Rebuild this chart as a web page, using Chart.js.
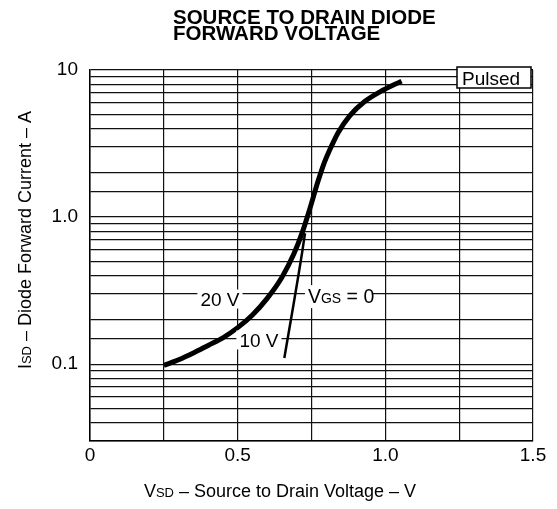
<!DOCTYPE html>
<html>
<head>
<meta charset="utf-8">
<script src="https://cdn.jsdelivr.net/npm/chart.js@4.4.0/dist/chart.umd.min.js"></script>
<style>
  body { margin: 0; background: #fff; }
  #wrap { width: 557px; height: 509px; }
</style>
</head>
<body>
<div id="wrap"><canvas id="myChart" width="557" height="509"></canvas></div>
<script>
// data (V, A)
var vsd20 = [0.25, 0.30, 0.35, 0.40, 0.45, 0.50, 0.55, 0.60, 0.65, 0.69, 0.72, 0.745, 0.772, 0.79, 0.813, 0.84, 0.88, 0.93, 0.982, 1.055];
var isd20 = [0.098, 0.107, 0.119, 0.134, 0.151, 0.177, 0.216, 0.28, 0.39, 0.56, 0.80, 1.15, 1.75, 2.25, 2.9, 3.75, 4.9, 6.1, 7.1, 8.4];
var vsd10 = [0.658, 0.675, 0.69, 0.705, 0.718, 0.728];
var isd10 = [0.110, 0.174, 0.26, 0.394, 0.569, 0.776];

var xTickValues = [0, 0.5, 1.0, 1.5];
var xTickLabels = ['0', '0.5', '1.0', '1.5'];
var yTickValues = [0.1, 1, 10];
var yTickLabels = ['0.1', '1.0', '10'];

var FONT = '"Liberation Sans", Arial, Helvetica, sans-serif';

function toPoints(xs, ys) {
    return xs.map(function (x, i) { return { x: x, y: ys[i] }; });
}

function findLabel(value, values, labels) {
    for (var i = 0; i < values.length; i++) {
        if (Math.abs(value - values[i]) < values[i] * 1e-6 + 1e-9) return labels[i];
    }
    return '';
}

// text with a small "subscript" part, e.g. V + SD + rest
function subText(ctx, x, y, main, sub, rest, size, align) {
    var small = Math.round(size * 0.72);
    ctx.font = size + 'px ' + FONT;
    var w1 = ctx.measureText(main).width;
    var w3 = ctx.measureText(rest).width;
    ctx.font = small + 'px ' + FONT;
    var w2 = ctx.measureText(sub).width;
    var total = w1 + w2 + w3;
    var sx = x;
    if (align === 'center') sx = x - total / 2;
    ctx.textAlign = 'left';
    ctx.textBaseline = 'alphabetic';
    ctx.font = size + 'px ' + FONT;
    ctx.fillText(main, sx, y);
    ctx.font = small + 'px ' + FONT;
    ctx.fillText(sub, sx + w1, y);
    ctx.font = size + 'px ' + FONT;
    ctx.fillText(rest, sx + w1 + w2, y);
    return total;
}

function boxedText(ctx, text, cx, cy, size) {
    ctx.font = size + 'px ' + FONT;
    var w = ctx.measureText(text).width;
    ctx.fillStyle = '#fff';
    ctx.fillRect(cx - w / 2 - 3, cy - size * 0.5, w + 6, size);
    ctx.fillStyle = '#000';
    ctx.textAlign = 'center';
    ctx.textBaseline = 'alphabetic';
    ctx.fillText(text, cx, cy + size * 0.36);
}

var textPlugin = {
    id: 'textPlugin',
    afterDatasetsDraw: function (chart) {
        var ctx = chart.ctx;
        var xs = chart.scales.x, ys = chart.scales.y;
        var ca = chart.chartArea;
        ctx.save();
        ctx.fillStyle = '#000';

        // title
        ctx.font = 'bold 20.5px ' + FONT;
        ctx.textAlign = 'left';
        ctx.textBaseline = 'alphabetic';
        ctx.fillText('SOURCE TO DRAIN DIODE', 173, 24);
        ctx.fillText('FORWARD VOLTAGE', 173, 39.5);

        // curve labels
        boxedText(ctx, '20 V', xs.getPixelForValue(0.44), ys.getPixelForValue(0.277), 19);
        boxedText(ctx, '10 V', xs.getPixelForValue(0.572), ys.getPixelForValue(0.146), 19);

        // VGS = 0
        var vx = xs.getPixelForValue(0.738), vy = ys.getPixelForValue(0.29);
        ctx.font = '19px ' + FONT;
        var wv = ctx.measureText('V = 0').width + 14;
        ctx.fillStyle = '#fff';
        ctx.fillRect(vx - 3, vy - 11, wv + 8, 23);
        ctx.fillStyle = '#000';
        subText(ctx, vx, vy + 7, 'V', 'GS', ' = 0', 19.5, 'left');

        // Pulsed box
        var bx = ca.right - 76, by = ca.top - 3;
        ctx.fillStyle = '#fff';
        ctx.fillRect(bx, by, 74, 21);
        ctx.strokeStyle = '#000';
        ctx.lineWidth = 1.5;
        ctx.strokeRect(bx, by, 74, 21);
        ctx.fillStyle = '#000';
        ctx.font = '19px ' + FONT;
        ctx.textAlign = 'left';
        ctx.fillText('Pulsed', bx + 5, by + 18);

        // axis titles
        subText(ctx, 280, 497, 'V', 'SD', ' \u2013 Source to Drain Voltage \u2013 V', 18, 'center');
        ctx.translate(31, 240);
        ctx.rotate(-Math.PI / 2);
        subText(ctx, 0, 0, 'I', 'SD', ' \u2013 Diode Forward Current \u2013 A', 18, 'center');
        ctx.restore();
    }
};

var ctx = document.getElementById('myChart').getContext('2d');
var myChart = new Chart(ctx, {
    type: 'line',
    data: {
        datasets: [
            {
                label: '20 V',
                data: toPoints(vsd20, isd20),
                borderColor: '#000',
                borderWidth: 5,
                pointRadius: 0,
                cubicInterpolationMode: 'monotone',
                fill: false
            },
            {
                label: '10 V',
                data: toPoints(vsd10, isd10),
                borderColor: '#000',
                borderWidth: 2.5,
                pointRadius: 0,
                cubicInterpolationMode: 'monotone',
                fill: false
            }
        ]
    },
    options: {
        responsive: false,
        animation: false,
        layout: { padding: { left: 0, right: 24, top: 70, bottom: 0 } },
        plugins: {
            legend: { display: false },
            tooltip: { enabled: false }
        },
        scales: {
            x: {
                type: 'linear',
                min: 0,
                max: 1.5,
                afterFit: function (scale) { scale.height = 68; },
                grid: { color: '#111', lineWidth: 1.2, drawTicks: false },
                border: { color: '#000', width: 1.5 },
                ticks: {
                    stepSize: 0.25,
                    autoSkip: false,
                    maxRotation: 0,
                    padding: 3,
                    color: '#000',
                    font: { family: FONT, size: 19 },
                    callback: function (value) {
                        return findLabel(value, xTickValues, xTickLabels);
                    }
                }
            },
            y: {
                type: 'logarithmic',
                min: 0.03,
                max: 10,
                afterFit: function (scale) { scale.width = 90; },
                grid: { color: '#111', lineWidth: 1.2, drawTicks: false },
                border: { color: '#000', width: 1.5 },
                ticks: {
                    autoSkip: false,
                    padding: 12,
                    color: '#000',
                    font: { family: FONT, size: 19 },
                    callback: function (value) {
                        return findLabel(value, yTickValues, yTickLabels);
                    }
                }
            }
        }
    },
    plugins: [textPlugin]
});
</script>
</body>
</html>
